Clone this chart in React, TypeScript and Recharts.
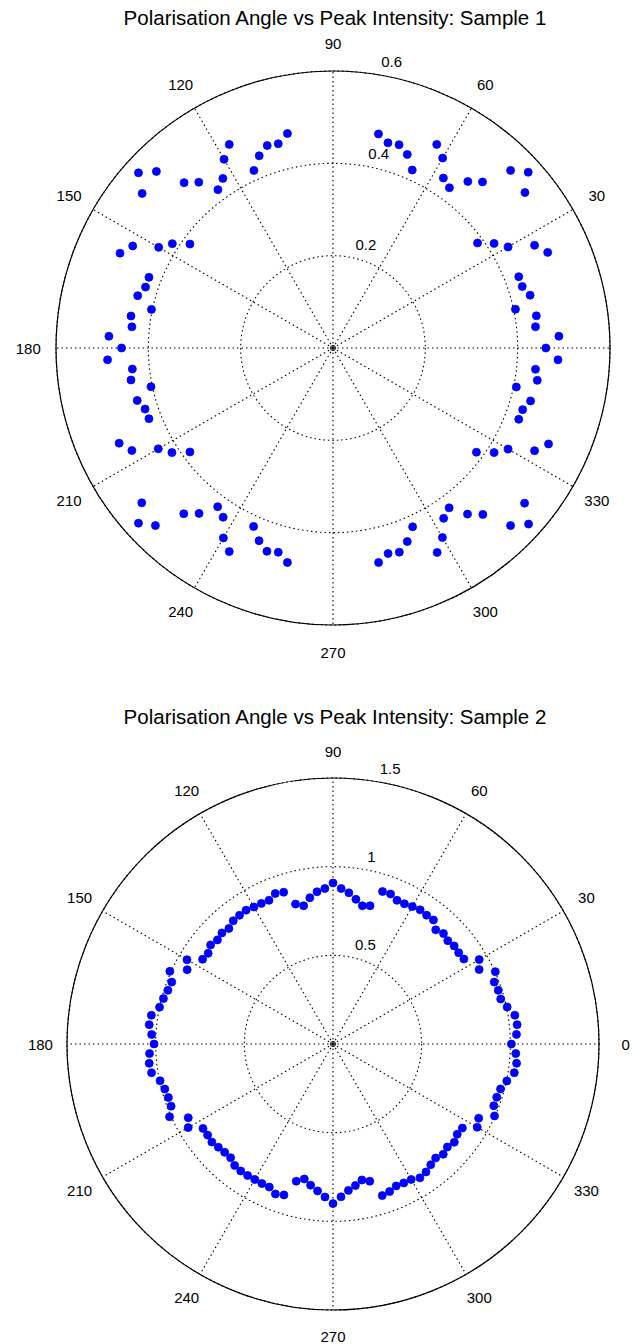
import React from 'react';
import { RadarChart, Radar, PolarGrid, PolarAngleAxis, PolarRadiusAxis } from 'recharts';

const FONT = '"Liberation Sans", Arial, Helvetica, sans-serif';
const ANGLE_TICKS = [0, 30, 60, 90, 120, 150, 180, 210, 240, 270, 300, 330];

const S1_TITLE = 'Polarisation Angle vs Peak Intensity: Sample 1';
const S1_ANGLES = [
  0, 3, 6, 9, 12, 15, 18, 21, 24, 27, 30, 33, 36, 39, 42, 45, 48, 51, 54, 57, 60, 63, 66, 69, 72, 75, 78,
  102, 105, 108, 111, 114, 117, 120, 123, 126, 129, 132, 135, 138, 141, 144, 147, 150, 153, 156, 159, 162, 165, 168, 171, 174, 177,
  180, 183, 186, 189, 192, 195, 198, 201, 204, 207, 210, 213, 216, 219, 222, 225, 228, 231, 234, 237, 240, 243, 246, 249, 252, 255, 258,
  282, 285, 288, 291, 294, 297, 300, 303, 306, 309, 312, 315, 318, 321, 324, 327, 330, 333, 336, 339, 342, 345, 348, 351, 354, 357,
];
const S1_INTENSITY = [
  0.461, 0.49, 0.441, 0.446, 0.404, 0.442, 0.431, 0.431, 0.509, 0.49, 0.438, 0.416, 0.387, 0.535, 0.569, 0.544, 0.484, 0.464, 0.429, 0.439, 0.475, 0.495, 0.422, 0.449, 0.463, 0.46, 0.474,
  0.475, 0.458, 0.461, 0.446, 0.421, 0.495, 0.472, 0.438, 0.424, 0.462, 0.482, 0.541, 0.567, 0.532, 0.383, 0.415, 0.436, 0.487, 0.505, 0.427, 0.427, 0.438, 0.402, 0.443, 0.438, 0.486,
  0.458, 0.489, 0.437, 0.443, 0.403, 0.439, 0.428, 0.427, 0.507, 0.489, 0.437, 0.416, 0.383, 0.533, 0.567, 0.544, 0.483, 0.461, 0.425, 0.437, 0.475, 0.495, 0.423, 0.447, 0.463, 0.458, 0.475,
  0.475, 0.461, 0.465, 0.449, 0.424, 0.497, 0.474, 0.44, 0.428, 0.463, 0.485, 0.544, 0.57, 0.534, 0.384, 0.416, 0.438, 0.49, 0.511, 0.431, 0.432, 0.443, 0.406, 0.448, 0.441, 0.488,
];
const S1_RADIUS_TICKS = [0, 0.2, 0.4, 0.6];
const S1_RMAX = 0.6;

const S2_TITLE = 'Polarisation Angle vs Peak Intensity: Sample 2';
const S2_ANGLES = [
  0, 3, 6, 9, 12, 15, 18, 21, 24, 27, 30, 33, 36, 39, 42, 45, 48, 51, 54, 57, 60, 63, 66, 69, 72, 75, 78, 81, 84, 87,
  90, 93, 96, 99, 102, 105, 108, 111, 114, 117, 120, 123, 126, 129, 132, 135, 138, 141, 144, 147, 150, 153, 156, 159, 162, 165, 168, 171, 174, 177,
  180, 183, 186, 189, 192, 195, 198, 201, 204, 207, 210, 213, 216, 219, 222, 225, 228, 231, 234, 237, 240, 243, 246, 249, 252, 255, 258, 261, 264, 267,
  270, 273, 276, 279, 282, 285, 288, 291, 294, 297, 300, 303, 306, 309, 312, 315, 318, 321, 324, 327, 330, 333, 336, 339, 342, 345, 348, 351, 354, 357,
];
const S2_INTENSITY = [
  1.006, 1.036, 1.044, 1.038, 1.004, 0.979, 0.98, 0.974, 1.002, 0.925, 0.952, 0.88, 0.876, 0.879, 0.871, 0.881, 0.866, 0.9, 0.898, 0.902, 0.895, 0.887, 0.887, 0.906, 0.904, 0.807, 0.797, 0.826, 0.857, 0.878,
  0.908, 0.878, 0.863, 0.835, 0.797, 0.817, 0.9, 0.909, 0.887, 0.89, 0.892, 0.9, 0.897, 0.894, 0.877, 0.886, 0.877, 0.888, 0.87, 0.877, 0.951, 0.923, 1.007, 0.974, 0.979, 0.99, 1.0, 1.037, 1.042, 1.024,
  1.009, 1.036, 1.042, 1.036, 0.997, 0.982, 0.976, 0.978, 1.009, 0.916, 0.943, 0.874, 0.874, 0.879, 0.87, 0.864, 0.863, 0.881, 0.885, 0.884, 0.882, 0.883, 0.883, 0.906, 0.895, 0.801, 0.778, 0.806, 0.833, 0.864,
  0.9, 0.863, 0.83, 0.808, 0.784, 0.801, 0.899, 0.891, 0.876, 0.879, 0.882, 0.9, 0.892, 0.876, 0.865, 0.879, 0.868, 0.88, 0.866, 0.87, 0.939, 0.922, 0.997, 0.971, 0.971, 0.978, 1.002, 1.035, 1.041, 1.032,
];
const S2_RADIUS_TICKS = [0, 0.5, 1, 1.5];
const S2_RMAX = 1.5;

type PlotProps = {
  angles: number[];
  values: number[];
  radiusTicks: number[];
  rMax: number;
  width: number;
  height: number;
  cx: number;
  cy: number;
  outerRadius: number;
};

function PolarPlot({ angles, values, radiusTicks, rMax, width, height, cx, cy, outerRadius }: PlotProps) {
  const data = angles.map((a, i) => ({ angle: a, intensity: values[i] }));
  const ringStep = radiusTicks[2] - radiusTicks[1];
  const labelShift = 0.05 * (ringStep / rMax) * outerRadius;

  const renderAngleTick = (props: any) => {
    // labels falling beyond the drawing area are not shown (as in the reference)
    if (props.x > width - 4) return <g />;
    return (
      <text
        x={props.x}
        y={props.y}
        textAnchor="middle"
        dominantBaseline="central"
        fontSize={15}
        fontFamily={FONT}
        fill="#000"
      >
        {props.payload.value}
      </text>
    );
  };

  const renderRadiusTick = (props: any) => {
    const { x, y, payload } = props;
    if (payload.value === 0) {
      return <circle cx={x} cy={y} r={2.5} fill="none" stroke="#000" strokeWidth={1} />;
    }
    const rad = (82 * Math.PI) / 180;
    const ax = x + labelShift * Math.cos(rad);
    const ay = y - labelShift * Math.sin(rad);
    return (
      <text x={ax + 9} y={ay - 2} textAnchor="start" fontSize={15} fontFamily={FONT} fill="#000">
        {String(payload.value)}
      </text>
    );
  };

  return (
    <RadarChart
      width={width}
      height={height}
      data={data}
      cx={cx}
      cy={cy}
      outerRadius={outerRadius}
      startAngle={0}
      endAngle={360}
      margin={{ top: 0, right: 0, bottom: 0, left: 0 }}
    >
      <PolarGrid gridType="circle" stroke="#000" strokeWidth={1.1} strokeDasharray="1.5 3" />
      <PolarAngleAxis
        dataKey="angle"
        type="number"
        domain={[0, 360]}
        ticks={ANGLE_TICKS as any}
        axisLineType="circle"
        axisLine={{ stroke: '#000', strokeWidth: 1.2 }}
        tickLine={false}
        tickSize={outerRadius * 0.1}
        tick={renderAngleTick}
      />
      <PolarRadiusAxis
        type="number"
        domain={[0, rMax]}
        allowDataOverflow
        allowDecimals
        ticks={radiusTicks as any}
        angle={82}
        axisLine={false}
        tickLine={false}
        tick={renderRadiusTick}
      />
      <Radar
        dataKey="intensity"
        stroke="none"
        fill="none"
        dot={{ r: 4, fill: '#0000ff', stroke: '#0000ff', strokeWidth: 0.8, fillOpacity: 1 }}
        isAnimationActive={false}
      />
    </RadarChart>
  );
}

const titleStyle: React.CSSProperties = {
  position: 'absolute',
  left: 35,
  width: 600,
  textAlign: 'center',
  fontSize: 20.5,
  lineHeight: '24px',
  color: '#000',
  fontFamily: FONT,
  whiteSpace: 'nowrap',
};

export default function App() {
  return (
    <div style={{ position: 'absolute', left: 0, top: 0, width: 635, height: 1344, background: '#fff' }}>
      <div style={{ position: 'absolute', left: 0, top: 0 }}>
        <PolarPlot
          angles={S1_ANGLES}
          values={S1_INTENSITY}
          radiusTicks={S1_RADIUS_TICKS}
          rMax={S1_RMAX}
          width={635}
          height={680}
          cx={333}
          cy={348}
          outerRadius={277}
        />
      </div>
      <div style={{ position: 'absolute', left: 0, top: 680 }}>
        <PolarPlot
          angles={S2_ANGLES}
          values={S2_INTENSITY}
          radiusTicks={S2_RADIUS_TICKS}
          rMax={S2_RMAX}
          width={635}
          height={664}
          cx={333}
          cy={364}
          outerRadius={266}
        />
      </div>
      <div style={{ ...titleStyle, top: 6 }}>{S1_TITLE}</div>
      <div style={{ ...titleStyle, top: 705 }}>{S2_TITLE}</div>
    </div>
  );
}
